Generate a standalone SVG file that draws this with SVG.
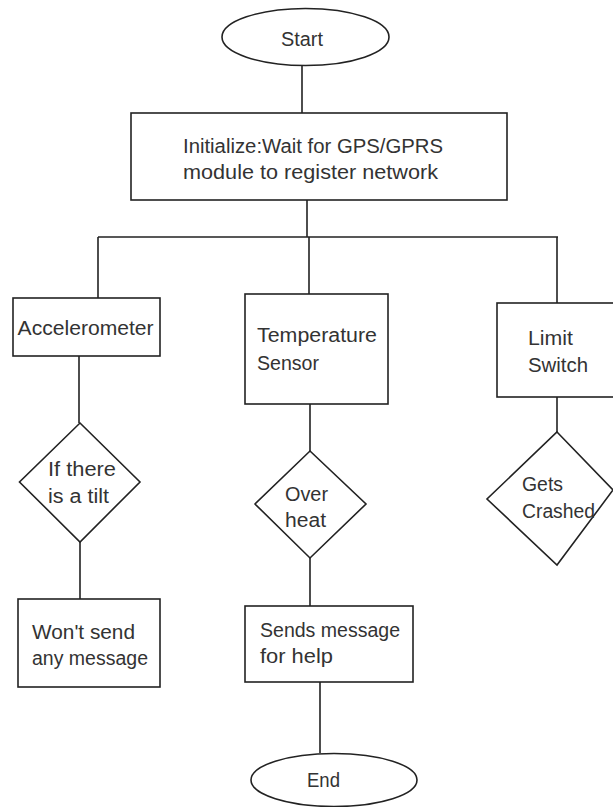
<svg xmlns="http://www.w3.org/2000/svg" width="613" height="807" viewBox="0 0 613 807">
<style>
.s{fill:#fff;stroke:#222;stroke-width:1.6}
.c{fill:none;stroke:#222;stroke-width:1.6}
text{font-family:"Liberation Sans",Arial,sans-serif;font-size:20px;fill:#333}
</style>
<rect width="613" height="807" fill="#fff"/>
<g id="connectors">
<path class="c" d="M302 65V113M307 200V237M98 237H558M98 237V298M309 237V294M557 237V303M79 356V423M80 542V599M310 404V451M310 558V606M557 397V432M320 682V753"/>
</g>
<g id="start"><ellipse class="s" cx="305.5" cy="37" rx="83.5" ry="28.5"/><text x="281" y="46" textLength="42" lengthAdjust="spacingAndGlyphs">Start</text></g>
<g id="init"><rect class="s" x="131" y="113" width="376" height="87"/><text x="183" y="153" textLength="260" lengthAdjust="spacingAndGlyphs">Initialize:Wait for GPS/GPRS</text><text x="183" y="179" textLength="255" lengthAdjust="spacingAndGlyphs">module to register network</text></g>
<g id="accel"><rect class="s" x="13" y="298" width="147" height="58"/><text x="17.6" y="335" textLength="136" lengthAdjust="spacingAndGlyphs">Accelerometer</text></g>
<g id="temp"><rect class="s" x="245" y="294" width="143" height="110"/><text x="257" y="342" textLength="120" lengthAdjust="spacingAndGlyphs">Temperature</text><text x="257" y="370" textLength="62" lengthAdjust="spacingAndGlyphs">Sensor</text></g>
<g id="limit"><rect class="s" x="497" y="303" width="130" height="94"/><text x="528" y="345" textLength="45" lengthAdjust="spacingAndGlyphs">Limit</text><text x="528" y="372" textLength="60" lengthAdjust="spacingAndGlyphs">Switch</text></g>
<g id="tilt"><polygon class="s" points="80,423 140,482 80,542 19.5,482"/><text x="48" y="476" textLength="68" lengthAdjust="spacingAndGlyphs">If there</text><text x="48" y="503" textLength="61" lengthAdjust="spacingAndGlyphs">is a tilt</text></g>
<g id="overheat"><polygon class="s" points="310,451 366,504 310,558 255,504"/><text x="285" y="501" textLength="43" lengthAdjust="spacingAndGlyphs">Over</text><text x="285" y="527" textLength="41" lengthAdjust="spacingAndGlyphs">heat</text></g>
<g id="crashed"><polygon class="s" points="557,432 613,490 557,565 487,499"/><text x="522" y="491" textLength="41" lengthAdjust="spacingAndGlyphs">Gets</text><text x="522" y="518" textLength="73" lengthAdjust="spacingAndGlyphs">Crashed</text></g>
<g id="nosend"><rect class="s" x="18" y="599" width="142" height="88"/><text x="32" y="639" textLength="103" lengthAdjust="spacingAndGlyphs">Won't send</text><text x="32" y="665" textLength="116" lengthAdjust="spacingAndGlyphs">any message</text></g>
<g id="sends"><rect class="s" x="245" y="606" width="168" height="76"/><text x="260" y="637" textLength="140" lengthAdjust="spacingAndGlyphs">Sends message</text><text x="260" y="663" textLength="73" lengthAdjust="spacingAndGlyphs">for help</text></g>
<g id="end"><ellipse class="s" cx="334" cy="780" rx="83" ry="26.5"/><text x="307" y="787" textLength="33" lengthAdjust="spacingAndGlyphs">End</text></g>
</svg>
